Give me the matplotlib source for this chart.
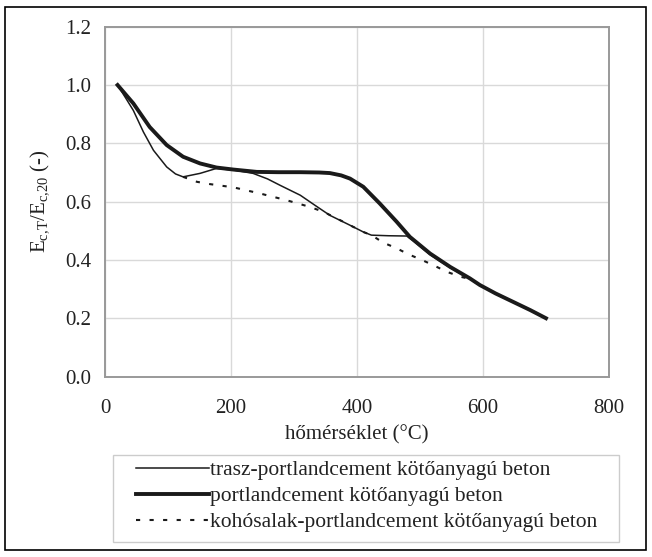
import matplotlib
matplotlib.use('Agg')
import matplotlib.pyplot as plt
from matplotlib.patches import Rectangle

# trasz-portlandcement (vékony vonal)
trasz_t = [20, 33, 45, 61, 77, 98, 112, 124, 151, 177, 205, 235, 258, 278, 310, 335, 357, 389, 410, 423,
           450, 479, 489, 516, 548, 579, 595, 620, 648, 675, 700]
trasz_e = [1.0, 0.955, 0.913, 0.839, 0.776, 0.719, 0.695, 0.685, 0.697, 0.714, 0.708, 0.697, 0.678, 0.656,
           0.622, 0.585, 0.553, 0.519, 0.496, 0.485, 0.483, 0.482, 0.466, 0.418, 0.373, 0.335, 0.314, 0.285,
           0.256, 0.228, 0.2]

# portlandcement (vastag vonal)
port_t = [20, 45, 71, 98, 124, 151, 177, 204, 241, 275, 310, 340, 357, 375, 389, 410, 436, 463, 484, 516,
          548, 579, 595, 620, 648, 675, 700]
port_e = [1.0, 0.937, 0.856, 0.794, 0.754, 0.731, 0.717, 0.710, 0.702, 0.701, 0.701, 0.700, 0.698, 0.690,
          0.679, 0.651, 0.594, 0.531, 0.479, 0.422, 0.376, 0.337, 0.314, 0.285, 0.256, 0.228, 0.2]

# kohósalak-portlandcement (pontozott)
koho_t = [124, 146, 167, 204, 246, 288, 325, 347, 370, 389, 410, 423, 442, 463, 481, 503, 524, 543, 565,
          579, 595, 620, 648, 675, 700]
koho_e = [0.685, 0.668, 0.66, 0.649, 0.628, 0.605, 0.582, 0.565, 0.54, 0.519, 0.496, 0.485, 0.459, 0.44,
          0.42, 0.40, 0.379, 0.359, 0.342, 0.335, 0.314, 0.285, 0.256, 0.228, 0.2]

plt.rcParams['font.family'] = ['Liberation Serif', 'DejaVu Serif']
plt.rcParams['mathtext.fontset'] = 'custom'
plt.rcParams['mathtext.rm'] = 'Liberation Serif'
plt.rcParams['mathtext.it'] = 'Liberation Serif:italic'

fig = plt.figure(figsize=(6.52, 5.57), dpi=100)
ax = fig.add_axes([0.161, 0.324, 0.773, 0.628])

# keret a teljes ábra körül
fig.patches.append(Rectangle((0.008, 0.012), 0.983, 0.975, transform=fig.transFigure,
                             fill=False, edgecolor='black', linewidth=1.2))
# jelmagyarázat kerete
fig.patches.append(Rectangle((0.1733, 0.027), 0.776, 0.156, transform=fig.transFigure,
                             fill=False, edgecolor='#cccccc', linewidth=1.0))

c = '#1a1a1a'
ax.plot(trasz_t, trasz_e, color=c, lw=1.1, label='trasz-portlandcement kötőanyagú beton',
        zorder=3, solid_joinstyle='round')
ax.plot(port_t, port_e, color=c, lw=2.8, label='portlandcement kötőanyagú beton',
        zorder=2, solid_joinstyle='round')
ax.plot(koho_t, koho_e, color=c, lw=1.5, ls=(0, (2, 4.5)), label='kohósalak-portlandcement kötőanyagú beton',
        zorder=1)

ax.set_xlim(0, 800)
ax.set_ylim(0, 1.2)
ax.set_xticks([0, 200, 400, 600, 800])
ax.set_yticks([0.0, 0.2, 0.4, 0.6, 0.8, 1.0, 1.2])
ax.set_yticklabels(['0.0', '0.2', '0.4', '0.6', '0.8', '1.0', '1.2'])
ax.grid(True, color='#d9d9d9', lw=1.0)
ax.set_axisbelow(True)
for s in ax.spines.values():
    s.set_color('#999999')
    s.set_linewidth(1.4)
ax.tick_params(labelsize=15, colors='#222222', length=0)
ax.tick_params(axis='x', pad=16)
ax.tick_params(axis='y', pad=10)

ax.set_xlabel('hőmérséklet (°C)', fontsize=15, color='#222222', labelpad=5)
ax.set_ylabel(r'E$_{\mathrm{c{,}T}}$/E$_{\mathrm{c{,}20}}$ (-)', fontsize=15, color='#222222', labelpad=10)

leg = fig.legend(loc='upper left', bbox_to_anchor=(136 / 652, 1 - 460 / 557),
                 borderaxespad=0, borderpad=0, fontsize=15.5, handlelength=3.4, handletextpad=0.05,
                 labelspacing=0.28, frameon=False)
for t in leg.get_texts():
    t.set_color('#222222')

fig.savefig('out.png', dpi=100)
